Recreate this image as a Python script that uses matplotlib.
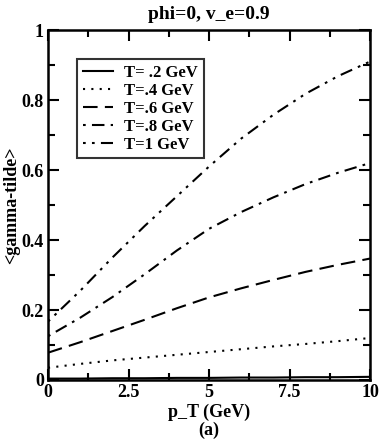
import numpy as np
import matplotlib
matplotlib.use("Agg")
import matplotlib.pyplot as plt
from matplotlib.ticker import MultipleLocator

plt.rcParams['font.family'] = ['Liberation Serif', 'DejaVu Serif']
plt.rcParams['font.weight'] = 'bold'

# p_T grid (GeV)
pt = [0, 1, 2, 3, 4, 5, 6, 7, 8, 9, 10]

# <gamma-tilde>, one list per temperature
g_t02 = [0.004, 0.004, 0.005, 0.005, 0.006, 0.006, 0.007, 0.007, 0.008, 0.008, 0.009]
g_t04 = [0.035, 0.046, 0.056, 0.064, 0.072, 0.080, 0.088, 0.096, 0.103, 0.111, 0.120]
g_t06 = [0.078, 0.108, 0.140, 0.172, 0.205, 0.236, 0.262, 0.286, 0.309, 0.329, 0.347]
g_t08 = [0.125, 0.178, 0.237, 0.302, 0.370, 0.432, 0.480, 0.522, 0.560, 0.592, 0.620]
g_t10 = [0.167, 0.255, 0.350, 0.440, 0.525, 0.610, 0.690, 0.758, 0.818, 0.868, 0.910]

labels = ["T= .2 GeV", "T=.4 GeV", "T=.6 GeV", "T=.8 GeV", "T=1 GeV"]

styles = [
    '-',
    (0, (1, 3)),
    (0, (7, 3.5)),
    (0, (1.3, 3, 6, 3)),
    (0, (1.3, 3, 1.3, 3, 6, 3)),
]

fig = plt.figure(figsize=(3.82, 4.42), dpi=100)
ax = fig.add_axes([0.1257, 0.1403, 0.843, 0.7917])

for ys, lab, ls in zip([g_t02, g_t04, g_t06, g_t08, g_t10], labels, styles):
    ax.plot(pt, ys, color='black', lw=1.5, linestyle=ls, label=lab)

ax.set_xlim(0, 10)
ax.set_ylim(0, 1)
ax.xaxis.set_minor_locator(MultipleLocator(1.25))
ax.yaxis.set_minor_locator(MultipleLocator(0.1))
ax.set_xticks([0, 2.5, 5, 7.5, 10])
ax.set_xticklabels(['0', '2.5', '5', '7.5', '10'])
ax.set_yticks([0, 0.2, 0.4, 0.6, 0.8, 1.0])
ax.set_yticklabels(['0', '0.2', '0.4', '0.6', '0.8', '1'])

ax.tick_params(which='both', direction='in', top=True, right=True, width=1.5,
               labelsize=13)
ax.tick_params(which='major', length=8, pad=3)
ax.tick_params(which='minor', length=5)
for s in ax.spines.values():
    s.set_linewidth(1.8)

ax.set_title("phi=0, v_e=0.9", fontsize=14, fontweight='bold', pad=8)
ax.set_xlabel("p_T (GeV)\n(a)", fontsize=13, fontweight='bold', labelpad=2,
              linespacing=1.0)
ax.set_ylabel("<gamma-tilde>", fontsize=13, fontweight='bold', labelpad=1)

leg = ax.legend(loc='upper left', bbox_to_anchor=(0.09, 0.918), frameon=True,
                fancybox=False, edgecolor='black', fontsize=12,
                handlelength=1.8, handletextpad=0.7, labelspacing=0.12,
                borderpad=0.35, borderaxespad=0)
leg.get_frame().set_linewidth(1.5)

fig.savefig("out.png", dpi=100)
